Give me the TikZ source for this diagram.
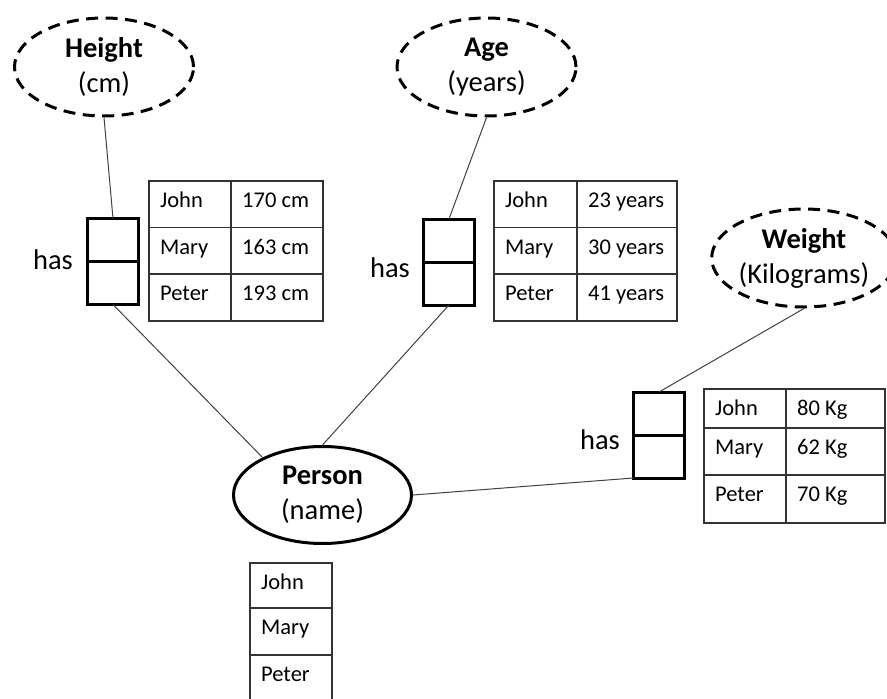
\documentclass[tikz,border=0pt]{standalone}
\usepackage{fontspec}
\setmainfont{Carlito}
\usetikzlibrary{shapes.geometric}

\newcommand{\lblfont}{\fontsize{28.5}{35}\selectfont}
\newcommand{\tblfont}{\fontsize{22.5}{27}\selectfont}

% one table row with two cells: name, x, y, w1, w2, h, text1, text2
\newcommand{\tabrow}[8]{%
  \node[cell, minimum width=#4, minimum height=#6] (#1a) at (#2,#3) {};
  \node[cell, minimum width=#5, minimum height=#6] (#1b) at (#1a.north east) {};
  \node[celltext] (#1at) at ([xshift=11pt,yshift=-26.5pt]#1a.north west) {#7};
  \node[celltext] (#1bt) at ([xshift=11pt,yshift=-26.5pt]#1b.north west) {#8};
}
% one single-cell row: name, x, y, w, h, text
\newcommand{\tabcell}[6]{%
  \node[cell, minimum width=#4, minimum height=#5] (#1) at (#2,#3) {};
  \node[celltext] (#1t) at ([xshift=11pt,yshift=-26.5pt]#1.north west) {#6};
}

\begin{document}
\begin{tikzpicture}[x=1pt,y=-1pt,
  attr/.style={ellipse, draw, line width=3pt, dash pattern=on 12pt off 7.5pt,
    minimum width=179pt, minimum height=98pt, inner sep=0pt, align=center, font=\lblfont},
  entity/.style={ellipse, draw, line width=3pt,
    minimum width=178pt, minimum height=97pt, inner sep=0pt, align=center, font=\lblfont},
  relbox/.style={draw, line width=3pt, minimum width=51pt, minimum height=86pt,
    inner sep=0pt, outer sep=0pt},
  haslbl/.style={font=\lblfont, inner sep=0pt},
  conn/.style={draw=black!75, line width=1pt},
  cell/.style={draw=black!80, line width=1.2pt, anchor=north west, inner sep=0pt, outer sep=0pt},
  celltext/.style={anchor=base west, inner sep=0pt, font=\tblfont}
]
\useasboundingbox (0,0) rectangle (887,699);

% attribute and entity ellipses
\node[attr] (height) at (104,67) {\textbf{Height}\\(cm)};
\node[attr] (age) at (486.5,67) {\textbf{Age}\\(years)};
\node[attr] (weight) at (804,258) {\textbf{Weight}\\(Kilograms)};
\node[entity] (person) at (322.5,495) {\textbf{Person}\\(name)};

% relationship boxes
\node[relbox] (rel1) at (113,261.5) {};
\draw[line width=3pt] (rel1.west) -- (rel1.east);
\node[relbox] (rel2) at (449,262) {};
\draw[line width=3pt] (rel2.west) -- (rel2.east);
\node[relbox] (rel3) at (659,435) {};
\draw[line width=3pt] (rel3.west) -- (rel3.east);

\node[haslbl] (has1) at (53,260) {has};
\node[haslbl] (has2) at (390,268) {has};
\node[haslbl] (has3) at (600,440) {has};

% connectors
\draw[conn] (height.south) -- (rel1.north);
\draw[conn] (rel1.south) -- (person.148);
\draw[conn] (age.south) -- (rel2.north);
\draw[conn] (rel2.south) -- (person.north);
\draw[conn] (weight.south) -- (rel3.north);
\draw[conn] (rel3.south west) -- (person.east);

% height table
\tabrow{ha}{149}{181}{82}{92}{46.5}{John}{170 cm}
\tabrow{hb}{149}{227.5}{82}{92}{46.5}{Mary}{163 cm}
\tabrow{hc}{149}{274}{82}{92}{47}{Peter}{193 cm}

% age table
\tabrow{aa}{494}{181}{83}{100}{46.5}{John}{23 years}
\tabrow{ab}{494}{227.5}{83}{100}{46.5}{Mary}{30 years}
\tabrow{ac}{494}{274}{83}{100}{47}{Peter}{41 years}

% weight table
\tabrow{wa}{704}{389}{82}{99}{39}{John}{80 Kg}
\tabrow{wb}{704}{428}{82}{99}{47}{Mary}{62 Kg}
\tabrow{wc}{704}{475}{82}{99}{48}{Peter}{70 Kg}

% person table
\tabcell{pa}{250}{563}{82}{45}{John}
\tabcell{pb}{250}{608}{82}{47}{Mary}
\tabcell{pc}{250}{655}{82}{50}{Peter}
\end{tikzpicture}
\end{document}
